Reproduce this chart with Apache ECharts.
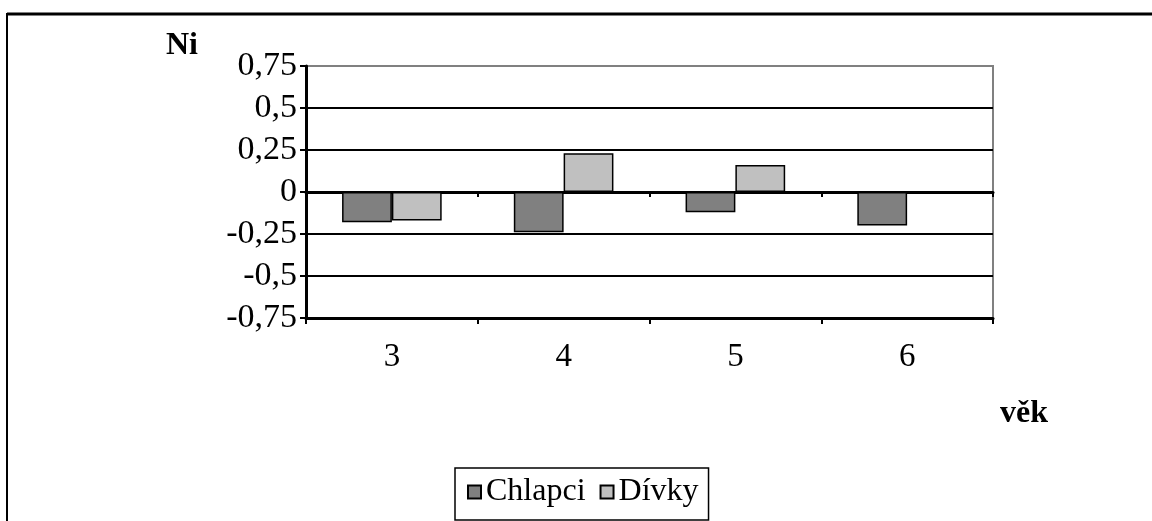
<!DOCTYPE html>
<html>
<head>
<meta charset="utf-8">
<script src="https://cdn.jsdelivr.net/npm/echarts@6/dist/echarts.min.js"></script>
<style>
  html, body { margin: 0; padding: 0; background: #fff; }
  #chart { width: 1152px; height: 521px; }
</style>
</head>
<body>
<div id="chart"></div>
<script>
// Age groups on the category axis
const ages = ['3', '4', '5', '6'];
// Index values per age group
const chlapci = [-0.18, -0.24, -0.12, -0.20];
const divky = [-0.17, 0.23, 0.16, null];
// Value axis range
const yMin = -0.75;
const yMax = 0.75;
const yStep = 0.25;

const FONT = '"Liberation Serif", "Times New Roman", serif';
const fmt = v => String(Math.round(v * 100) / 100).replace('.', ',');

const chart = echarts.init(document.getElementById('chart'), null, { renderer: 'canvas' });

chart.setOption({
  animation: false,
  backgroundColor: '#fff',
  title: [
    { text: 'Ni', left: 161, top: 25,
      textStyle: { fontFamily: FONT, fontWeight: 'bold', fontSize: 32, color: '#000' } },
    { text: 'věk', left: 995, top: 393,
      textStyle: { fontFamily: FONT, fontWeight: 'bold', fontSize: 32, color: '#000' } }
  ],
  grid: {
    left: 306, right: 159, top: 66, bottom: 203,
    show: true, borderColor: '#808080', borderWidth: 2, backgroundColor: 'transparent'
  },
  legend: {
    left: 455, top: 468,
    orient: 'horizontal',
    padding: [8, 10, 12, 12],
    itemGap: 14,
    itemWidth: 13, itemHeight: 13,
    borderColor: '#000', borderWidth: 1.5,
    icon: 'rect',
    textStyle: { fontFamily: FONT, fontSize: 32, color: '#000' },
    data: ['Chlapci', 'Dívky']
  },
  xAxis: [
    {
      type: 'category', data: ages, position: 'bottom',
      axisLine: { onZero: true, lineStyle: { color: '#000', width: 3 } },
      axisTick: { show: true, inside: false, length: 5, lineStyle: { color: '#000', width: 2 } },
      axisLabel: { show: false },
      splitLine: { show: false }
    },
    {
      type: 'category', data: ages, position: 'bottom',
      axisLine: { onZero: false, lineStyle: { color: '#000', width: 3 } },
      axisTick: { show: true, inside: false, length: 6, lineStyle: { color: '#000', width: 2 } },
      axisLabel: { margin: 23, fontFamily: FONT, fontSize: 33, color: '#000' },
      splitLine: { show: false }
    }
  ],
  yAxis: {
    type: 'value', min: yMin, max: yMax, interval: yStep,
    axisLine: { show: true, lineStyle: { color: '#000', width: 3 } },
    axisTick: { show: true, inside: false, length: 6, lineStyle: { color: '#000', width: 2 } },
    axisLabel: { formatter: fmt, margin: 9, fontFamily: FONT, fontSize: 34, color: '#000' },
    splitLine: {
      show: true,
      lineStyle: { color: ['#000', '#000', '#000', '#000', '#000', '#000', '#808080'], width: 2 }
    }
  },
  series: [
    {
      name: 'Chlapci', type: 'bar', data: chlapci, xAxisIndex: 0,
      barGap: '0%', barCategoryGap: '42%',
      itemStyle: { color: '#808080', borderColor: '#000', borderWidth: 1.5 }
    },
    {
      name: 'Dívky', type: 'bar', data: divky, xAxisIndex: 0,
      barGap: '0%', barCategoryGap: '42%',
      itemStyle: { color: '#c0c0c0', borderColor: '#000', borderWidth: 1.5 }
    }
  ],
  graphic: [
    { type: 'line', shape: { x1: 7, y1: 14, x2: 1152, y2: 14 },
      style: { stroke: '#000', lineWidth: 3 }, silent: true },
    { type: 'line', shape: { x1: 7, y1: 13, x2: 7, y2: 521 },
      style: { stroke: '#000', lineWidth: 2 }, silent: true }
  ]
});
</script>
</body>
</html>
